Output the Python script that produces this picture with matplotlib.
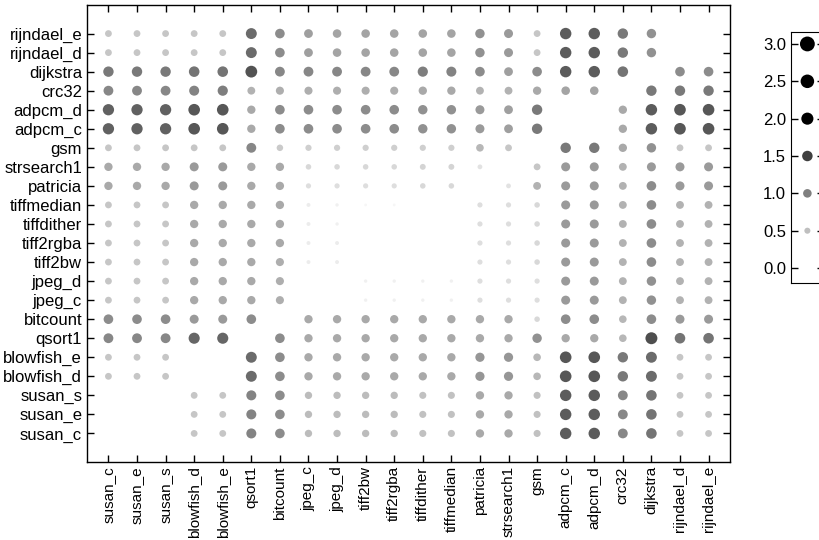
import numpy as np
import matplotlib
matplotlib.use('Agg')
import matplotlib.pyplot as plt

plt.rcParams['font.family'] = ['Liberation Sans', 'DejaVu Sans']
plt.rcParams['font.size'] = 12

# benchmarks, bottom row / left column first
names = ['susan_c', 'susan_e', 'susan_s', 'blowfish_d', 'blowfish_e', 'qsort1',
         'bitcount', 'jpeg_c', 'jpeg_d', 'tiff2bw', 'tiff2rgba', 'tiffdither',
         'tiffmedian', 'patricia', 'strsearch1', 'gsm', 'adpcm_c', 'adpcm_d',
         'crc32', 'dijkstra', 'rijndael_d', 'rijndael_e']

# one list per row (row benchmark), values along the columns above
rijndael_e = [0.6, 0.6, 0.6, 0.6, 0.6, 1.55, 1.2, 1.0, 0.95, 0.95, 0.95, 0.95, 0.95, 1.15, 1.05, 0.6, 1.7, 1.7, 1.4, 1.15, 0, 0]
rijndael_d = [0.6, 0.6, 0.6, 0.6, 0.6, 1.55, 1.2, 1.0, 0.95, 0.95, 0.95, 0.95, 0.95, 1.15, 1.05, 0.6, 1.7, 1.7, 1.4, 1.15, 0, 0]
dijkstra = [1.4, 1.4, 1.4, 1.45, 1.45, 1.8, 1.25, 1.25, 1.25, 1.25, 1.25, 1.35, 1.3, 1.2, 1.0, 1.2, 1.7, 1.7, 1.45, 0, 1.2, 1.2]
crc32 = [1.25, 1.25, 1.25, 1.3, 1.35, 0.8, 0.85, 0.85, 0.85, 0.85, 0.85, 0.9, 0.9, 0.8, 0.8, 0.9, 0.95, 0.95, 0, 1.4, 1.4, 1.4]
adpcm_d = [1.65, 1.65, 1.65, 1.75, 1.75, 0.9, 1.2, 1.2, 1.2, 1.2, 1.2, 1.15, 1.15, 1.05, 1.0, 1.4, 0, 0, 0.9, 1.7, 1.75, 1.75]
adpcm_c = [1.65, 1.65, 1.65, 1.75, 1.75, 0.9, 1.2, 1.2, 1.2, 1.2, 1.2, 1.15, 1.15, 1.05, 1.0, 1.4, 0, 0, 0.9, 1.7, 1.75, 1.75]
gsm = [0.6, 0.6, 0.6, 0.6, 0.6, 1.25, 0.55, 0.5, 0.5, 0.5, 0.5, 0.5, 0.5, 0.75, 0.6, 0, 1.4, 1.4, 0.9, 1.15, 0.6, 0.6]
strsearch1 = [0.9, 0.9, 0.9, 1.05, 1.05, 0.9, 0.9, 0.4, 0.4, 0.4, 0.4, 0.45, 0.45, 0.3, 0, 0.6, 1.05, 1.05, 0.8, 1.05, 1.05, 1.05]
patricia = [0.9, 0.9, 0.9, 1.05, 1.05, 0.9, 0.9, 0.35, 0.35, 0.35, 0.35, 0.4, 0.4, 0, 0.3, 0.8, 1.05, 1.05, 0.8, 1.2, 1.05, 1.05]
tiffmedian = [0.6, 0.6, 0.6, 0.9, 0.9, 0.9, 0.9, 0.2, 0.15, 0.1, 0.1, 0, 0, 0.35, 0.35, 0.4, 1.05, 1.05, 0.8, 1.2, 0.8, 0.8]
tiffdither = [0.6, 0.6, 0.6, 0.9, 0.9, 0.9, 0.9, 0.2, 0.15, 0, 0, 0, 0, 0.35, 0.35, 0.4, 1.05, 1.05, 0.8, 1.2, 0.8, 0.8]
tiff2rgba = [0.6, 0.6, 0.6, 0.9, 0.9, 0.9, 0.9, 0.2, 0.2, 0, 0, 0, 0, 0.35, 0.35, 0.4, 1.05, 1.05, 0.8, 1.2, 0.8, 0.8]
tiff2bw = [0.6, 0.6, 0.6, 0.9, 0.9, 0.9, 0.85, 0.2, 0.2, 0, 0, 0, 0, 0.35, 0.35, 0.4, 1.05, 1.05, 0.8, 1.2, 0.8, 0.8]
jpeg_d = [0.6, 0.6, 0.6, 0.9, 0.9, 0.9, 0.85, 0, 0, 0.15, 0.15, 0.15, 0.15, 0.35, 0.35, 0.35, 1.05, 1.05, 0.8, 1.15, 0.8, 0.8]
jpeg_c = [0.6, 0.6, 0.6, 0.9, 0.9, 0.9, 0.85, 0, 0, 0.15, 0.15, 0.15, 0.15, 0.35, 0.35, 0.35, 1.05, 1.05, 0.8, 1.15, 0.8, 0.8]
bitcount = [1.2, 1.2, 1.2, 1.05, 1.05, 1.2, 0, 0.9, 0.9, 0.9, 0.9, 0.9, 0.9, 0.9, 0.9, 0.4, 1.2, 1.2, 0.75, 1.2, 1.05, 1.05]
qsort1 = [1.25, 1.25, 1.25, 1.6, 1.6, 0, 1.2, 0.9, 0.9, 0.9, 0.9, 0.9, 0.9, 0.9, 0.9, 1.15, 0.9, 0.9, 0.75, 1.85, 1.45, 1.45]
blowfish_e = [0.6, 0.6, 0.6, 0, 0, 1.55, 1.2, 0.9, 0.9, 0.9, 0.9, 0.9, 0.9, 1.1, 1.1, 0.75, 1.75, 1.75, 1.4, 1.55, 0.6, 0.6]
blowfish_d = [0.6, 0.6, 0.6, 0, 0, 1.55, 1.2, 0.9, 0.9, 0.9, 0.9, 0.9, 0.9, 1.1, 1.1, 0.75, 1.75, 1.75, 1.4, 1.55, 0.6, 0.6]
susan_s = [0, 0, 0, 0.6, 0.6, 1.3, 1.2, 0.7, 0.7, 0.7, 0.7, 0.65, 0.65, 0.9, 0.9, 0.65, 1.7, 1.7, 1.25, 1.45, 0.6, 0.6]
susan_e = [0, 0, 0, 0.6, 0.6, 1.3, 1.2, 0.7, 0.7, 0.7, 0.7, 0.65, 0.65, 0.9, 0.9, 0.65, 1.7, 1.7, 1.25, 1.45, 0.6, 0.6]
susan_c = [0, 0, 0, 0.6, 0.6, 1.3, 1.2, 0.7, 0.7, 0.7, 0.7, 0.65, 0.65, 0.9, 0.9, 0.65, 1.7, 1.7, 1.25, 1.45, 0.6, 0.6]

rows = [susan_c, susan_e, susan_s, blowfish_d, blowfish_e, qsort1, bitcount,
        jpeg_c, jpeg_d, tiff2bw, tiff2rgba, tiffdither, tiffmedian, patricia,
        strsearch1, gsm, adpcm_c, adpcm_d, crc32, dijkstra, rijndael_d, rijndael_e]

legend_vals = [0.0, 0.5, 1.0, 1.5, 2.0, 2.5, 3.0]

M = np.array(rows)
n = len(names)
xx, yy = np.meshgrid(np.arange(n), np.arange(n))

fig = plt.figure(figsize=(8.19, 5.4), dpi=100)
ax = fig.add_axes([87/819, 1-462/540, (730-87)/819, (462-5)/540])
ax.scatter(xx.ravel(), yy.ravel(), s=40*M.ravel(), c=M.ravel(), cmap='gray_r',
           vmin=0, vmax=2, alpha=0.75, edgecolors='none')
ax.set_xlim(-0.75, n - 0.25)
ax.set_ylim(-1.5, n + 0.5)
ax.set_xticks(np.arange(n))
ax.set_xticklabels(names, rotation=90, fontsize=11)
ax.set_yticks(np.arange(n))
ax.set_yticklabels(names)
ax.tick_params(direction='in', top=True, right=True, length=5, width=1)
ax.tick_params(axis='x', pad=3)
for sp in ax.spines.values():
    sp.set_linewidth(1)

# size / colour key
lax = fig.add_axes([791/819, 1-283/540, 0.04, (283-32)/540])
lax.scatter(np.zeros(len(legend_vals)), legend_vals, s=38*np.array(legend_vals),
            c=legend_vals, cmap='gray_r', vmin=0, vmax=2, edgecolors='none',
            clip_on=False)
lax.set_xlim(-1, 1)
lax.set_ylim(-0.2, 3.16)
lax.set_xticks([])
lax.set_yticks(legend_vals)
lax.set_yticklabels(['%.1f' % v for v in legend_vals])
lax.tick_params(direction='in', right=True, length=5, width=1)

fig.savefig('out.png', dpi=100, facecolor='white')
